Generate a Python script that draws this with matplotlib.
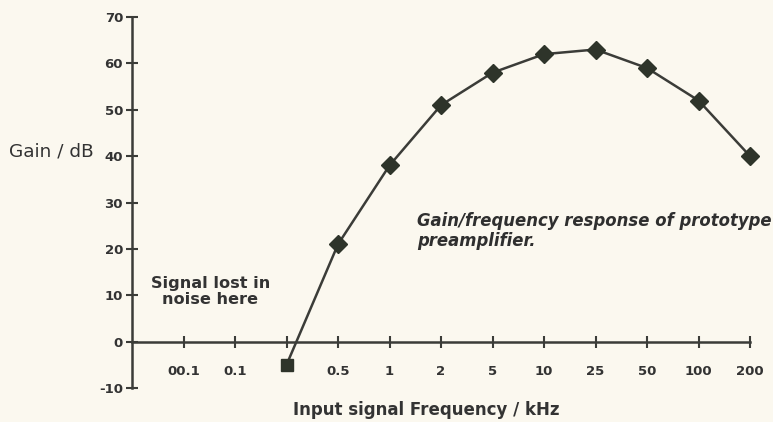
import matplotlib.pyplot as plt

# categorical frequency positions along the x axis (kHz)
freq_labels = ["00.1", "0.1", "", "0.5", "1", "2", "5", "10", "25", "50", "100", "200"]
freq_pos = list(range(1, len(freq_labels) + 1))

# measured gain (dB), starting at the unlabelled tick between 0.1 and 0.5
gain_pos = [3, 4, 5, 6, 7, 8, 9, 10, 11, 12]
gain_db = [-5, 21, 38, 51, 58, 62, 63, 59, 52, 40]

y_ticks = [-10, 0, 10, 20, 30, 40, 50, 60, 70]

bg = "#fbf8ef"
ink = "#3b3c38"
txt = "#333333"

fig = plt.figure(figsize=(7.73, 4.22), dpi=100, facecolor=bg)
ax = fig.add_axes([0.1708, 0.0806, 0.7995, 0.879], facecolor=bg)

ax.plot(gain_pos, gain_db, color=ink, lw=1.8, zorder=3, clip_on=False)
# first reading drawn as a square, rest as diamonds
ax.plot(gain_pos[:1], gain_db[:1], ls="none", marker="s", ms=8, color="#2e342a",
        zorder=4, clip_on=False)
ax.plot(gain_pos[1:], gain_db[1:], ls="none", marker="D", ms=9, color="#2e342a",
        zorder=4, clip_on=False)

ax.set_xlim(0, 12)
ax.set_ylim(-10, 70)

for s in ["top", "right"]:
    ax.spines[s].set_visible(False)
ax.spines["bottom"].set_position(("data", 0))
ax.spines["left"].set_bounds(-10, 70)
for s in ["left", "bottom"]:
    ax.spines[s].set_linewidth(1.8)
    ax.spines[s].set_color(ink)

ax.set_yticks(y_ticks)
ax.set_yticklabels([str(v) for v in y_ticks], fontfamily="DejaVu Sans",
                   fontweight="bold", fontsize=9.5, color=txt)
ax.tick_params(axis="y", direction="inout", length=9, width=1.5, color=ink, pad=2)

ax.set_xticks(freq_pos)
ax.set_xticklabels([])
ax.tick_params(axis="x", direction="inout", length=9, width=1.5, color=ink)
for p, lab in zip(freq_pos, freq_labels):
    ax.text(p, -6.4, lab, ha="center", va="center", fontfamily="DejaVu Sans",
            fontweight="bold", fontsize=9.5, color=txt)

fig.text(0.011, 0.64, "Gain / dB", ha="left", va="center", fontfamily="DejaVu Sans",
         fontsize=13.3, color=txt)
fig.text(0.551, 0.028, "Input signal Frequency / kHz", ha="center", va="center",
         fontfamily="DejaVu Sans", fontweight="bold", fontsize=12, color=txt)

ax.text(1.52, 10.75, "Signal lost in\nnoise here", ha="center", va="center",
        fontfamily="DejaVu Sans", fontweight="bold", fontsize=11.6,
        color=txt, linespacing=1.1)
ax.text(5.53, 23.8, "Gain/frequency response of prototype\npreamplifier.", ha="left",
        va="center", fontfamily="DejaVu Sans", style="oblique", fontweight="bold",
        fontsize=11.9, color="#2f2f2f", linespacing=1.15)

fig.savefig("out.png", dpi=100, facecolor=bg)
